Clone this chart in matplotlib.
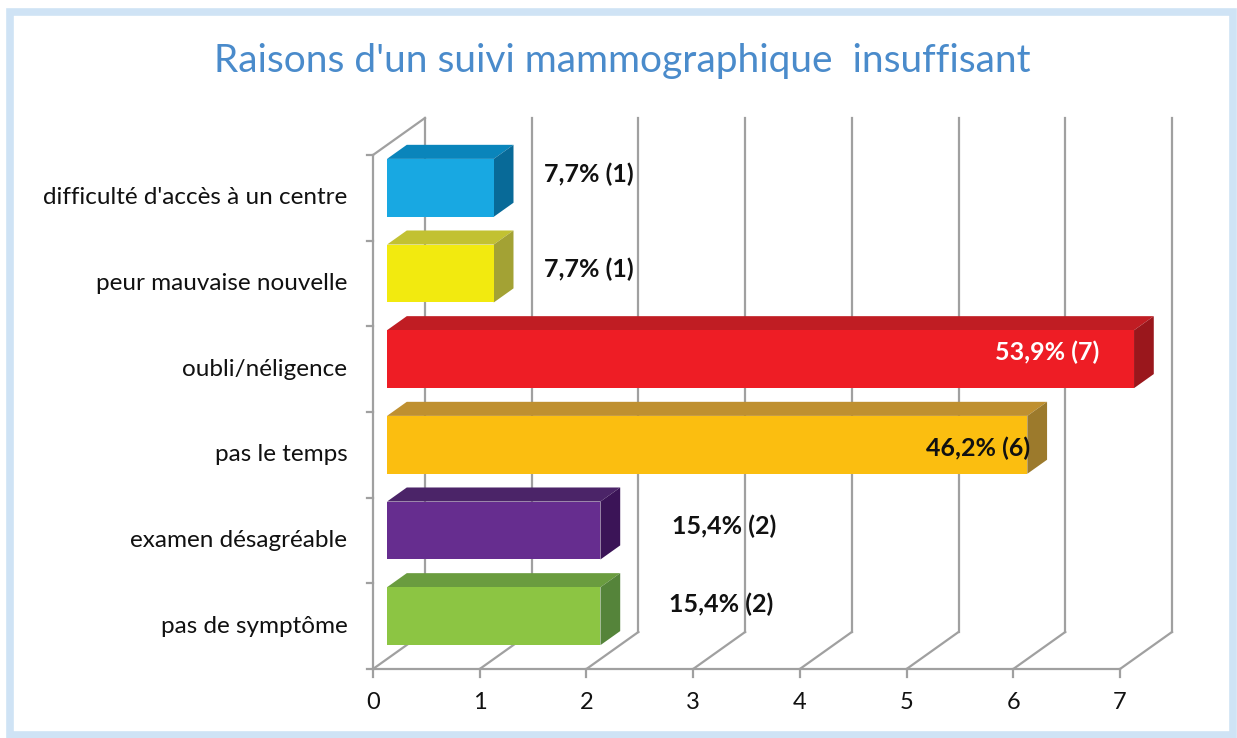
import matplotlib
matplotlib.use("Agg")
import matplotlib.pyplot as plt
from matplotlib.patches import Polygon, Rectangle

categories = ["difficulté d'accès à un centre", "peur mauvaise nouvelle", "oubli/néligence",
              "pas le temps", "examen désagréable", "pas de symptôme"]
values = [1, 1, 7, 6, 2, 2]
labels = ["7,7% (1)", "7,7% (1)", "53,9% (7)", "46,2% (6)", "15,4% (2)", "15,4% (2)"]
xticks = [0, 1, 2, 3, 4, 5, 6, 7]

front_colors = ["#18a8e2", "#f2ea0f", "#ee1d25", "#fbbe10", "#662d8f", "#8cc543"]
top_colors = ["#0a85bb", "#c2c132", "#c01d23", "#bf9030", "#4b2468", "#6a9c3f"]
side_colors = ["#086a98", "#a3a234", "#9a171c", "#9c7a2c", "#3b1457", "#55843a"]
label_colors = ["#111111", "#111111", "#ffffff", "#111111", "#111111", "#111111"]
# label anchor: (x offset from value, y offset in category units, alignment)
label_pos = [(0.6, 0.27, "left"), (0.6, 0.16, "left"), (-0.19, 0.2, "right"),
             (0.16, 0.08, "right"), (0.8, 0.17, "left"), (0.77, 0.25, "left")]

W, H = 1237, 738
fig = plt.figure(figsize=(W / 100, H / 100), dpi=100)
fig.patch.set_facecolor("white")

# outer light-blue frame
fig.add_artist(Rectangle((10 / W, 3 / H), (W - 14) / W, (H - 15) / H, transform=fig.transFigure,
                         fill=False, edgecolor="#cfe3f5", linewidth=5.5))

fig.text(622 / W, 1 - 61 / H, "Raisons d'un suivi mammographique  insuffisant", ha="center",
         va="center", fontsize=28, color="#4a8bcb", family="Lato")

ax = fig.add_axes([373 / W, 1 - 669 / H, (1120 - 373) / W, (669 - 155) / H])
n = len(categories)
ax.set_xlim(0, 7)
ax.set_ylim(-0.5, n - 0.5)
ax.axis("off")

DX, DY = 0.487, 0.432  # full depth vector (data units)
gc = "#a0a0a0"
lw = 1.6
ybot, ytop = -0.5, n - 0.5

# back wall vertical gridlines and floor diagonals
for x in xticks:
    ax.plot([x + DX, x + DX], [ybot + DY, ytop + DY], color=gc, lw=lw, zorder=1, clip_on=False)
    ax.plot([x, x + DX], [ybot, ybot + DY], color=gc, lw=lw, zorder=1, clip_on=False)
    ax.plot([x, x], [ybot, ybot - 0.09], color=gc, lw=lw, zorder=1, clip_on=False)
    ax.text(x, ybot - 0.39, str(x), ha="center", va="center", fontsize=17, color="#111111",
            family="Lato")
# front axes
ax.plot([0, 7], [ybot, ybot], color=gc, lw=lw, zorder=1, clip_on=False)
ax.plot([0, 0], [ybot, ytop], color=gc, lw=lw, zorder=1, clip_on=False)
ax.plot([0, DX], [ytop, ytop + DY], color=gc, lw=lw, zorder=1, clip_on=False)
for k in range(n + 1):
    ax.plot([-0.06, 0], [ybot + k, ybot + k], color=gc, lw=lw, zorder=1, clip_on=False)

f0, f1 = 0.27, 0.65
hh = 0.338
for i, (cat, v) in enumerate(zip(categories, values)):
    yc = n - 1 - i
    ox0, oy0 = f0 * DX, f0 * DY
    ox1, oy1 = f1 * DX, f1 * DY
    x0, x1 = ox0, v + ox0
    yb, yt = yc - hh + oy0, yc + hh + oy0
    front = [(x0, yb), (x1, yb), (x1, yt), (x0, yt)]
    dx, dy = ox1 - ox0, oy1 - oy0
    top = [(x0, yt), (x1, yt), (x1 + dx, yt + dy), (x0 + dx, yt + dy)]
    side = [(x1, yb), (x1 + dx, yb + dy), (x1 + dx, yt + dy), (x1, yt)]
    ax.add_patch(Polygon(top, closed=True, facecolor=top_colors[i], edgecolor="none", zorder=3, clip_on=False))
    ax.add_patch(Polygon(side, closed=True, facecolor=side_colors[i], edgecolor="none", zorder=3, clip_on=False))
    ax.add_patch(Polygon(front, closed=True, facecolor=front_colors[i], edgecolor="none", zorder=4, clip_on=False))
    lx, ly, ha = label_pos[i]
    ax.text(v + lx, yc + ly, labels[i], ha=ha, va="center", fontsize=18, fontweight="bold",
            color=label_colors[i], family="Lato", zorder=5)
    ax.text(-0.24, yc, cat, ha="right", va="center", fontsize=17.5, color="#111111", family="Lato")

fig.savefig("out.png", dpi=100, facecolor="white")
